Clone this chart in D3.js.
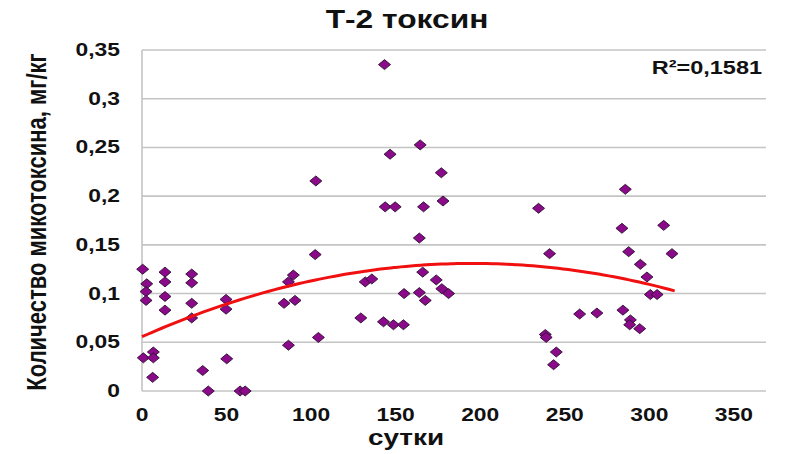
<!DOCTYPE html>
<html>
<head>
<meta charset="utf-8">
<script src="https://cdn.jsdelivr.net/npm/d3@7"></script>
<style>
  body { margin: 0; background: #fff; }
  text { font-family: "Liberation Sans", Arial, sans-serif; font-weight: bold; fill: #111; }
</style>
</head>
<body>
<div id="chart"></div>
<script>
// values
const days = [
  0.4, 2.8, 2.4, 2.4, 0.8, 6.7, 6.7, 6.3,
  13.6, 13.6, 13.6, 13.6,
  29.4, 29.4, 29.4, 29.4,
  35.9, 39.2, 49.7, 49.7, 50.1, 58, 61,
  84, 86.6, 86.6, 89.5, 90.5, 102.4, 102.8, 104.3,
  129.4, 132, 135.9,
  142.8, 148.7, 154.6,
  143.4, 146.7, 143.8, 149.7,
  155, 164, 166, 167.5, 164, 166.5, 164.5,
  174, 177.3, 181.3, 177, 178,
  234.5, 241, 238.5, 239, 245, 243.4,
  258.8, 269,
  284.4, 288.8, 288.4, 294.3,
  285.8, 283.8, 287.8, 294.7, 298.6, 300.6, 304.6, 308.5, 313.4
];
const toxin = [
  0.125, 0.110, 0.102, 0.093, 0.034, 0.040, 0.034, 0.014,
  0.122, 0.112, 0.097, 0.083,
  0.120, 0.111, 0.090, 0.075,
  0.021, 0, 0.094, 0.084, 0.033, 0, 0,
  0.090, 0.047, 0.112, 0.119, 0.093, 0.140, 0.2156, 0.055,
  0.075, 0.112, 0.115,
  0.071, 0.068, 0.068,
  0.335, 0.243, 0.189, 0.189,
  0.100, 0.101, 0.122, 0.093, 0.157, 0.189, 0.2526,
  0.114, 0.105, 0.100, 0.224, 0.195,
  0.1875, 0.141, 0.058, 0.055, 0.040, 0.027,
  0.079, 0.080,
  0.083, 0.073, 0.068, 0.064,
  0.207, 0.167, 0.143, 0.130, 0.117, 0.099, 0.099, 0.170, 0.141
];
// polynomial trendline (2nd order) as shown, c0 + c1*x + c2*x^2
const trendCoef = [0.0557, 7.7e-4, -1.97e-6];
const trendRange = [0, 315];
const xTicks = [0, 50, 100, 150, 200, 250, 300, 350];
const yTicks = [0, 0.05, 0.1, 0.15, 0.2, 0.25, 0.3, 0.35];
const r2Label = "R\u00b2=0,1581";

const W = 787, H = 454;
const m = { left: 142, right: 21, top: 50, bottom: 63 };
const SX = 1.27; // text in the picture is stretched sideways

const svg = d3.select("#chart").append("svg")
  .attr("width", W).attr("height", H);

const x = d3.scaleLinear().domain([0, 369]).range([m.left, W - m.right]);
const y = d3.scaleLinear().domain([0, 0.35]).range([H - m.bottom, m.top]);

const fmt = d => d3.format("~g")(d).replace(".", ",");

// grid
svg.append("g").selectAll("line").data(yTicks).join("line")
  .attr("x1", x.range()[0]).attr("x2", x.range()[1])
  .attr("y1", d => y(d)).attr("y2", d => y(d))
  .attr("stroke", "#c4c4c4").attr("stroke-width", 1.6);
svg.append("line")
  .attr("x1", x(0)).attr("x2", x(0))
  .attr("y1", y(0.35)).attr("y2", y(0))
  .attr("stroke", "#c4c4c4").attr("stroke-width", 1.6);

// tick labels
svg.append("g").selectAll("text").data(yTicks).join("text")
  .attr("transform", d => `translate(120,${y(d) + 6}) scale(${SX},1)`)
  .attr("text-anchor", "end").style("font-size", "18px")
  .text(fmt);
svg.append("g").selectAll("text").data(xTicks).join("text")
  .attr("transform", d => `translate(${x(d)},421) scale(${SX},1)`)
  .attr("text-anchor", "middle").style("font-size", "18px")
  .text(fmt);

// titles
svg.append("text")
  .attr("transform", `translate(407,28) scale(${SX},1)`)
  .attr("text-anchor", "middle").style("font-size", "25px")
  .text("Т-2 токсин");
svg.append("text")
  .attr("transform", `translate(406,445) scale(${SX},1)`)
  .attr("text-anchor", "middle").style("font-size", "22px")
  .text("сутки");
svg.append("text")
  .attr("transform", `translate(46,222) scale(${SX},1) rotate(-90)`)
  .attr("text-anchor", "middle").style("font-size", "22px")
  .text("Количество микотоксина, мг/кг");
svg.append("text")
  .attr("transform", `translate(762,74) scale(${SX},1)`)
  .attr("text-anchor", "end").style("font-size", "18.5px")
  .text(r2Label);

// points
const pts = days.map((d, i) => ({ d, v: toxin[i] }));
svg.append("g").selectAll("path").data(pts).join("path")
  .attr("d", "M0,-5L6,0L0,5L-6,0Z")
  .attr("transform", p => `translate(${x(p.d)},${y(p.v)})`)
  .attr("fill", "#8a0a8a").attr("stroke", "#2a1030").attr("stroke-width", 0.9);

// trendline
const trend = x => trendCoef[0] + trendCoef[1] * x + trendCoef[2] * x * x;
const tx = d3.range(trendRange[0], trendRange[1] + 1, 3);
svg.append("path")
  .datum(tx)
  .attr("fill", "none").attr("stroke", "#f01010").attr("stroke-width", 3)
  .attr("d", d3.line().x(d => x(d)).y(d => y(trend(d))).curve(d3.curveMonotoneX));
</script>
</body>
</html>
